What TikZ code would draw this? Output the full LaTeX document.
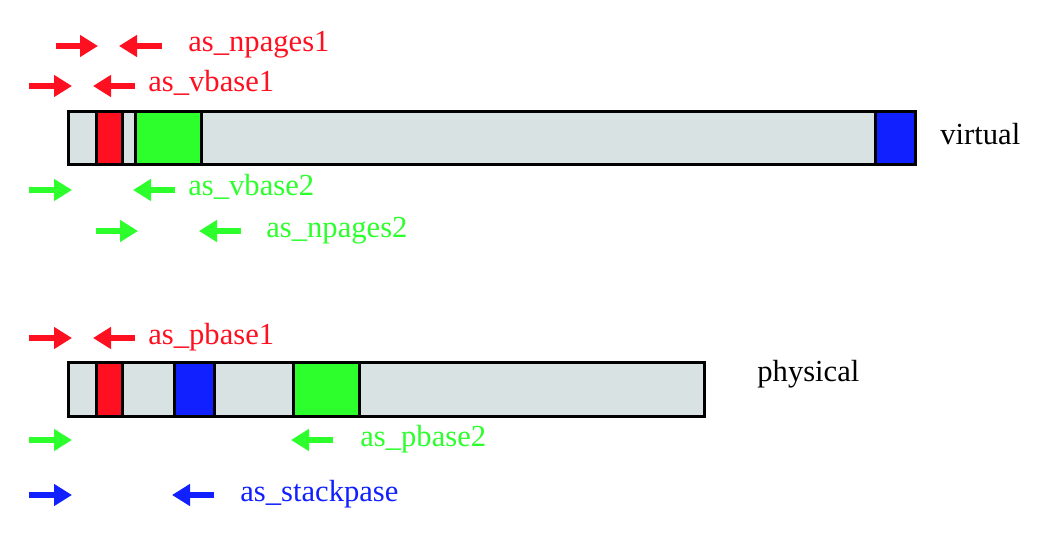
\documentclass[tikz,border=0pt]{standalone}
\usepackage{fontspec}
\setmainfont{Liberation Serif}
\usepackage{xcolor}
\usepackage{tikz}
\usetikzlibrary{arrows.meta}

\definecolor{segred}{RGB}{255,16,32}
\definecolor{seggreen}{RGB}{45,255,45}
\definecolor{segblue}{RGB}{16,32,255}
\definecolor{barfill}{RGB}{216,226,226}

\begin{document}
\begin{tikzpicture}[x=0.5pt,y=-0.5pt,
  marker/.style={line width=3pt,-{Triangle[length=9pt,width=10.5pt]}},
  tag/.style={anchor=base west,inner sep=0pt,font=\fontsize{15.3}{18}\selectfont},
  seg/.style={draw=black,line width=1.5pt}
]
\useasboundingbox (0,0) rectangle (1042,534);

% The bars
\draw[seg,fill=barfill] (68,112) rectangle (915,165);
\draw[seg,fill=segred] (96,112) rectangle (122,165);
\draw[seg,fill=seggreen] (135,112) rectangle (201,165);
\draw[seg,fill=segblue] (875,112) rectangle (915,165);

\draw[seg,fill=barfill] (68,362) rectangle (704,416);
\draw[seg,fill=segred] (96,362) rectangle (122,416);
\draw[seg,fill=segblue] (174,362) rectangle (214,416);
\draw[seg,fill=seggreen] (293,362) rectangle (359,416);

% The markers
\foreach \name/\col/\y/\a/\b/\c/\d/\tx/\txt in {
  npo/segred/46/56/98/162/119/188/as\_npages1,
  vbo/segred/86/29/72/135/93/148/as\_vbase1,
  vbt/seggreen/190/29/72/175/133/188/as\_vbase2,
  npt/seggreen/231/96/138/241/199/266/as\_npages2,
  pbo/segred/338/29/72/135/93/148/as\_pbase1,
  pbt/seggreen/440/29/72/333/291/360/as\_pbase2,
  stk/segblue/495/29/72/214/172/240/as\_stackpase}
{
  \coordinate (\name-a) at (\a,\y);
  \coordinate (\name-b) at (\b,\y);
  \coordinate (\name-c) at (\c,\y);
  \coordinate (\name-d) at (\d,\y);
  \draw[marker,\col] (\name-a) -- (\name-b);
  \draw[marker,\col] (\name-c) -- (\name-d);
  \node[tag,text=\col] (\name-lbl) at (\tx,\y+6) {\txt};
}

% The labels
\node[tag] (virt) at (940,145) {virtual};
\node[tag] (phys) at (757,381) {physical};
\end{tikzpicture}
\end{document}
